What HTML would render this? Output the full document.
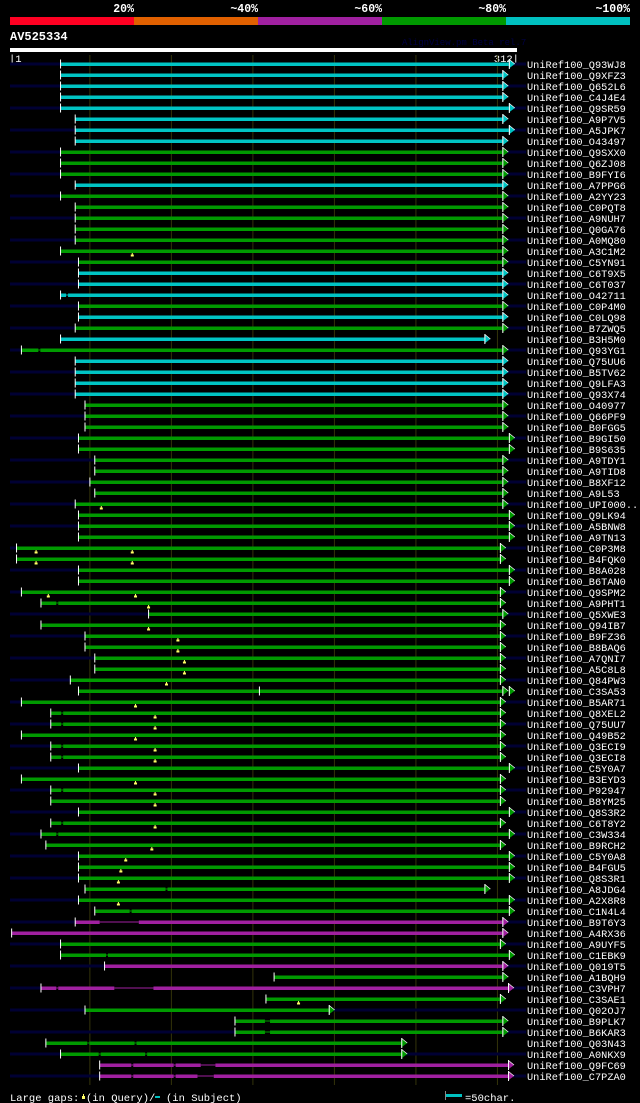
<!DOCTYPE html>
<html><head><meta charset="utf-8"><style>
html,body{margin:0;padding:0;background:#000;}
svg{display:block;}
text{font-family:"Liberation Mono",monospace;}
</style></head><body>
<svg id="chart" width="640" height="1103" viewBox="0 0 640 1103" xmlns="http://www.w3.org/2000/svg">
<rect width="640" height="1103" fill="#000"/>
<g>
<rect x="10" y="17" width="124" height="8" fill="#ff0022"/>
<rect x="134" y="17" width="124" height="8" fill="#e06000"/>
<rect x="258" y="17" width="124" height="8" fill="#a020a0"/>
<rect x="382" y="17" width="124" height="8" fill="#009900"/>
<rect x="506" y="17" width="124" height="8" fill="#00c0c0"/>
<g font-weight="bold" font-size="11.5" fill="#fff" text-anchor="end">
<text x="134" y="12">20%</text><text x="258" y="12">~40%</text><text x="382" y="12">~60%</text><text x="506" y="12">~80%</text><text x="630" y="12">~100%</text>
</g></g>
<text x="10" y="40" font-size="12" font-weight="bold" fill="#fff">AV525334</text>
<text x="402" y="45" font-size="9" fill="#000044">AlignView.pm Beta rel.7</text>
<rect x="10" y="48" width="507" height="4" fill="#fff"/>
<text x="9" y="62" font-size="10.5" fill="#fff">|1</text>
<text x="519" y="62" font-size="10.5" fill="#fff" text-anchor="end">312|</text>
<g id="grid"></g>
<g id="rows"></g>
<g>
<text x="10" y="1101" font-size="10.5" fill="#fff">Large gaps:</text>
<rect x="82" y="1096" width="3" height="3" fill="#ffff66"/><rect x="83" y="1094" width="1" height="2" fill="#ffff66"/>
<text x="86" y="1101" font-size="10.5" fill="#fff">(in Query)/</text>
<rect x="155" y="1096" width="5" height="2" fill="#00c0c0"/>
<text x="166" y="1101" font-size="10.5" fill="#fff">(in Subject)</text>
<rect x="445" y="1091" width="1" height="9" fill="#888"/>
<rect x="446" y="1094" width="16" height="3" fill="#00c0c0"/>
<text x="465" y="1101" font-size="10.5" fill="#fff">=50char.</text>
</g>
</svg>
<script>
const names=["Q93WJ8","Q9XFZ3","Q652L6","C4J4E4","Q9SR59","A9P7V5","A5JPK7","O43497","Q9SXX0","Q6ZJ08","B9FYI6","A7PPG6","A2YY23","C0PQT8","A9NUH7","Q0GA76","A0MQ80","A3C1M2","C5YN91","C6T9X5","C6T037","O42711","C0P4M0","C0LQ98","B7ZWQ5","B3H5M0","Q93YG1","Q75UU6","B5TV62","Q9LFA3","Q93X74","O40977","Q66PF9","B0FGG5","B9GI50","B9S635","A9TDY1","A9TID8","B8XF12","A9L53","UPI000..","Q9LK94","A5BNW8","A9TN13","C0P3M8","B4FQK0","B8A028","B6TAN0","Q9SPM2","A9PHT1","Q5XWE3","Q94IB7","B9FZ36","B8BAQ6","A7QNI7","A5C8L8","Q84PW3","C3SA53","B5AR71","Q8XEL2","Q75UU7","Q49B52","Q3ECI9","Q3ECI8","C5Y0A7","B3EYD3","P92947","B8YM25","Q8S3R2","C6T8Y2","C3W334","B9RCH2","C5Y0A8","B4FGU5","Q8S3R1","A8JDG4","A2X8R8","C1N4L4","B9T6Y3","A4RX36","A9UYF5","C1EBK9","Q019T5","A1BQH9","C3VPH7","C3SAE1","Q02OJ7","B9PLK7","B6KAR3","Q03N43","A0NKX9","Q9FC69","C7PZA0"];
const starts=[32,32,32,32,32,41,41,41,32,32,32,41,32,41,41,41,41,32,43,43,43,32,43,43,41,32,8,41,41,41,41,47,47,47,43,43,53,53,50,53,41,43,43,43,5,5,43,43,8,20,86,20,47,47,53,53,38,43,8,26,26,8,26,26,43,8,26,26,43,26,20,23,43,43,43,47,43,53,41,2,32,32,59,163,20,158,47,139,139,23,32,56,56];
const ends=[307,303,303,303,307,303,307,303,303,303,303,303,303,303,303,303,303,303,303,303,303,303,303,303,303,292,303,303,303,303,303,303,303,303,307,307,303,303,303,303,303,307,307,307,301.5,301.5,307,307,301.5,301.5,303,301.5,301.5,301.5,301.5,301.5,301.5,303,301.5,301.5,301.5,301.5,301.5,301.5,307,301.5,301.5,301.5,307,301.5,307,301.5,307,307,307,292,307,307,303,303,301.5,307,303,303,306.5,301.5,196.5,303,303,241,241,306.5,306.5];
const colors=["c","c","c","c","c","c","c","c","g","g","g","c","g","g","g","g","g","g","g","c","c","c","g","c","g","c","g","c","c","c","c","g","g","g","g","g","g","g","g","g","g","g","g","g","g","g","g","g","g","g","g","g","g","g","g","g","g","g","g","g","g","g","g","g","g","g","g","g","g","g","g","g","g","g","g","g","g","g","m","m","g","g","m","g","m","g","g","g","g","g","g","m","m"];
const queryGaps={17:[76],40:[57],44:[17,76],45:[17,76],48:[24.5,78],49:[86],51:[86],52:[104],53:[104],54:[108],55:[108],56:[97],58:[78],59:[90],60:[90],61:[78],62:[90],63:[90],65:[78],66:[90],67:[90],69:[90],71:[88],72:[72],73:[69],74:[67.5],76:[67.5],85:[178]};
const subjectGaps={21:[36],26:[19],49:[30],59:[33],60:[33],62:[33],63:[33],66:[33],69:[33],70:[30],75:[97],77:[75],81:[60.5],84:[30],87:[158],88:[158],89:[49,78],90:[56,84.5],91:[76,102],92:[76,102]};
const thinSpans={78:[56,80],84:[65,89],87:[158,160.5],88:[158,160.5],91:[118,127],92:[116,126]};
const extraTicks={57:[154]};
const extraArrows={57:[307]};
const gridResidues=[50,100,150,200,250,300];

const NS="http://www.w3.org/2000/svg";
const x=r=>10+(r-1)*507/311;
const rowY=i=>64+11*i;
const pal={c:"#00c4c4",g:"#009a00",m:"#a020a0"};
function mk(tag,attrs,parent){const e=document.createElementNS(NS,tag);for(const k in attrs)e.setAttribute(k,attrs[k]);parent.appendChild(e);return e;}
const grid=document.getElementById('grid');
gridResidues.forEach(g=>{
  const l=mk('line',{x1:x(g),x2:x(g),y1:55,y2:1085,stroke:'#33330a','stroke-width':1},grid);
  
  
});
const rows=document.getElementById('rows');
function arrow(g,bx,y,col){
  mk('polygon',{points:`${bx},${y-4.5} ${bx+6},${y} ${bx},${y+4.5}`,fill:col},g);
  mk('line',{x1:bx+0.5,x2:bx+0.5,y1:y-5,y2:y+5,stroke:'#fff','stroke-width':1},g);
  mk('line',{x1:bx+0.5,x2:bx+6,y1:y-4.5,y2:y,stroke:'#fff','stroke-width':0.7},g);
}
names.forEach((n,i)=>{
  const y=rowY(i);
  const g=mk('g',{},rows);
  
  
  if(i%2===0) mk('rect',{x:10,y:y-1.5,width:516,height:3,fill:'#000033'},g);
  const col=pal[colors[i]];
  const x0=x(starts[i]),x1=x(ends[i]);
  const bar=mk('rect',{x:x0,y:y-1.5,width:x1-x0,height:3.5,fill:col},g);
  
  
  if(thinSpans[i]){const t=thinSpans[i];mk('rect',{x:x(t[0]),y:y-1.5,width:x(t[1])-x(t[0]),height:3.5,fill:'#000'},g);mk('rect',{x:x(t[0]),y:y-0.5,width:x(t[1])-x(t[0]),height:1,fill:col},g);}
  (subjectGaps[i]||[]).forEach(s=>{mk('rect',{x:x(s)-1,y:y-1.5,width:2,height:3.5,fill:'#000'},g);mk('rect',{x:x(s)-1,y:y-0.5,width:2,height:1,fill:col},g);});
  mk('rect',{x:x0-0.5,y:y-4.5,width:1,height:9,fill:'#fff'},g);
  (extraTicks[i]||[]).forEach(s=>mk('rect',{x:x(s)-0.5,y:y-4.5,width:1,height:9,fill:'#fff'},g));
  (queryGaps[i]||[]).forEach(q=>{
    const m=mk('g',{},g);
    
    
    mk('rect',{x:x(q)-0.5,y:y+2,width:1,height:2,fill:'#ffff66'},m);
    mk('rect',{x:x(q)-1.5,y:y+3.5,width:3,height:2,fill:'#ffff66'},m);
  });
  arrow(g,x1,y,col);
  (extraArrows[i]||[]).forEach(a=>arrow(g,x(a),y,col));
  const t=mk('text',{x:527,y:y+4,'font-size':10.3,fill:'#fff'},g);
  
  
  t.textContent='UniRef100_'+n;
});
</script>
</body></html>
